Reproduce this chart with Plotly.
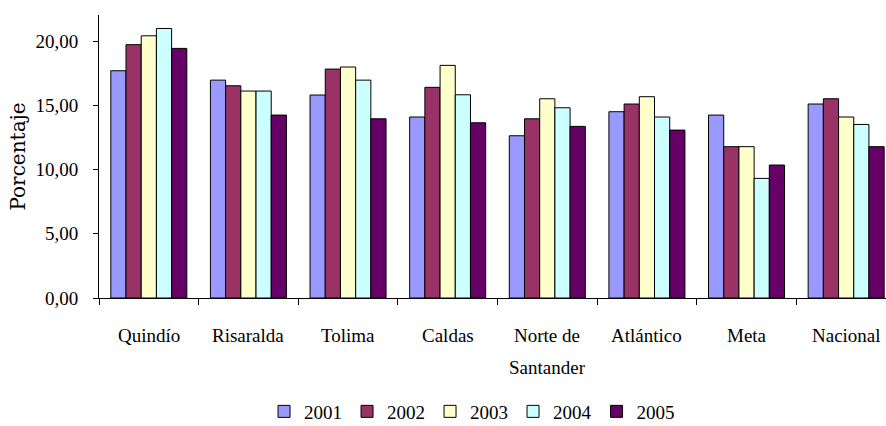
import plotly.graph_objects as go

categories = ["Quindío", "Risaralda", "Tolima", "Caldas", "Norte de Santander",
              "Atlántico", "Meta", "Nacional"]
label_lines = [["Quindío"], ["Risaralda"], ["Tolima"], ["Caldas"],
               ["Norte de", "Santander"], ["Atlántico"], ["Meta"], ["Nacional"]]
years = ["2001", "2002", "2003", "2004", "2005"]
v2001 = [17.69, 16.96, 15.80, 14.09, 12.63, 14.50, 14.24, 15.10]
v2002 = [19.72, 16.52, 17.82, 16.40, 13.95, 15.10, 11.78, 15.51]
v2003 = [20.41, 16.11, 17.98, 18.11, 15.51, 15.67, 11.78, 14.09]
v2004 = [20.98, 16.11, 16.96, 15.82, 14.81, 14.09, 9.31, 13.51]
v2005 = [19.43, 14.24, 13.95, 13.64, 13.36, 13.07, 10.35, 11.78]
series = [v2001, v2002, v2003, v2004, v2005]
colors = ["#9999FF", "#993366", "#FFFFCC", "#CCFFFF", "#660066"]
y_ticks = [0, 5, 10, 15, 20]

FONT = "Liberation Serif, Times New Roman, serif"

fig = go.Figure()
for name, vals, col in zip(years, series, colors):
    fig.add_trace(go.Bar(
        x=categories, y=vals, name=name,
        marker=dict(color=col, line=dict(color="black", width=1)),
    ))

for cat, lines in zip(categories, label_lines):
    for i, line in enumerate(lines):
        fig.add_annotation(
            x=cat, xref="x", y=0, yref="paper", text=line, showarrow=False,
            yanchor="middle", yshift=-37.5 - 31.5 * i,
            font=dict(family=FONT, size=19, color="black"),
        )

fig.update_layout(
    width=886, height=426,
    margin=dict(l=99, r=0, t=15, b=128),
    paper_bgcolor="white", plot_bgcolor="white",
    barmode="group", bargap=0.237, bargroupgap=0,
    separators=",.",
    font=dict(family=FONT, size=18, color="black"),
    showlegend=True,
    legend=dict(
        orientation="h", x=0.474, xanchor="center",
        yref="container", y=0.034, yanchor="middle",
        font=dict(family=FONT, size=19, color="black"),
        itemwidth=30, traceorder="normal",
    ),
    xaxis=dict(
        type="category", categoryorder="array", categoryarray=categories,
        range=[-0.5, 7.40], showticklabels=False,
        ticks="outside", ticklen=6, tickson="boundaries", tickcolor="black",
        showline=True, linecolor="black", linewidth=1, showgrid=False,
    ),
    yaxis=dict(
        range=[0, 22.03], tickvals=y_ticks, tickformat=".2f",
        ticks="outside", ticklen=5, tickcolor="black",
        showline=True, linecolor="black", linewidth=1, showgrid=False,
        zeroline=False, ticklabelstandoff=11,
        tickfont=dict(family=FONT, size=19, color="black"),
        title=dict(text="Porcentaje", standoff=4,
                   font=dict(family="DejaVu Serif, serif", size=20, color="black")),
    ),
)

fig.write_html(
    "out.html",
    config={"displayModeBar": False},
    post_script="document.body.style.margin='0';document.body.style.overflow='hidden';",
)
